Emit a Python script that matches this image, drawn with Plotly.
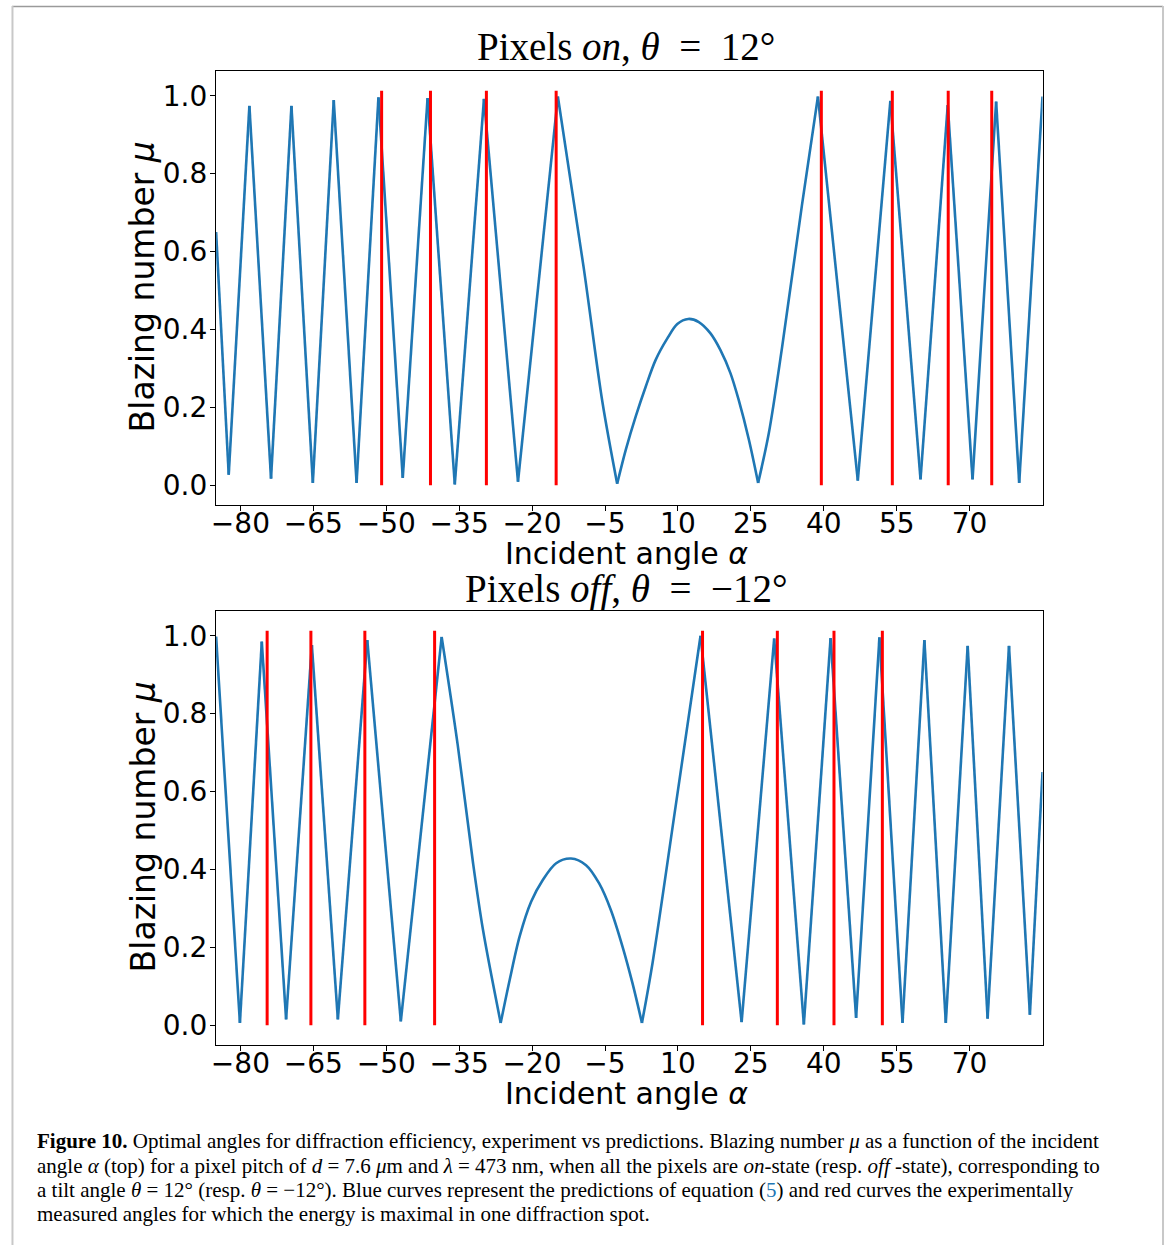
import plotly.graph_objects as go

# ---- blazing number vs incident angle, theta = +12 deg (pixels on) ----
TOP_ALPHA = [-85.0, -82.4, -78.15, -73.7, -69.5, -65.1, -60.8, -56.1, -51.6,
             -46.6, -41.5, -35.9, -29.9, -22.9, -14.7, -9.4, -5.55, -2.5,
             -0.73, 1.32, 3.37, 5.42, 7.82, 9.87, 12.13, 14.3, 16.7, 18.75,
             20.8, 22.5, 24.6, 26.5, 28.7, 31.4, 35.5, 38.8, 47.0, 53.7,
             59.9, 65.5, 70.6, 75.45, 80.2, 85.0]
TOP_MU = [0.650, 0.027, 0.974, 0.017, 0.974, 0.006, 0.989, 0.006, 0.996,
          0.019, 0.994, 0.002, 0.992, 0.009, 0.998, 0.560, 0.215, 0.004,
          0.091, 0.177, 0.253, 0.322, 0.377, 0.414, 0.427, 0.419, 0.390, 0.347,
          0.288, 0.219, 0.117, 0.006, 0.134, 0.352, 0.718, 0.998, 0.012, 0.987,
          0.015, 0.976, 0.015, 0.985, 0.006, 0.998]
TOP_MEASURED = [-50.95, -40.9, -29.4, -15.05, 39.5, 54.1, 65.6, 74.55]

# ---- blazing number vs incident angle, theta = -12 deg (pixels off) ----
BOT_ALPHA = [-85.0, -80.1, -75.6, -70.6, -65.3, -59.95, -53.9, -47.0, -38.6,
             -35.3, -32.14, -30.1, -26.46, -24.6, -22.56, -20.2, -17.8, -15.05,
             -11.98, -8.9, -6.2, -3.8, -1.4, 0.65, 2.6, 4.78, 9.5, 14.65,
             23.1, 29.8, 35.9, 41.4, 46.65, 51.45, 56.2, 60.7, 65.1, 69.6,
             73.7, 78.1, 82.4, 85.0]
BOT_MU = [0.998, 0.006, 0.985, 0.015, 0.976, 0.015, 0.989, 0.010, 0.997,
          0.720, 0.416, 0.245, 0.006, 0.117, 0.228, 0.317, 0.373, 0.416,
          0.428, 0.411, 0.364, 0.296, 0.202, 0.108, 0.006, 0.160, 0.560, 1.0,
          0.008, 0.993, 0.002, 0.994, 0.019, 0.996, 0.006, 0.989, 0.006, 0.974,
          0.017, 0.974, 0.027, 0.650]
BOT_MEASURED = [-74.5, -65.5, -54.4, -40.05, 15.06, 30.45, 42.1, 52.05]

MEASURED_SPAN = [0.0, 1.013]   # vertical extent of each measured-angle marker

X_TICKS = [-80, -65, -50, -35, -20, -5, 10, 25, 40, 55, 70]
Y_TICKS = [0.0, 0.2, 0.4, 0.6, 0.8, 1.0]

PANEL_TITLES = ["Pixels <i>on</i>, <i>θ</i>\u2002=\u200212°",
                "Pixels <i>off</i>, <i>θ</i>\u2002=\u2002−12°"]
X_LABEL = "Incident angle <i>α</i>"
Y_LABEL = "Blazing number <i>μ</i>"

CAPTION = [
    "<b>Figure 10.</b> Optimal angles for diffraction efficiency, experiment vs predictions. "
    "Blazing number <i>μ</i> as a function of the incident",
    "angle <i>α</i> (top) for a pixel pitch of <i>d</i> = 7.6 <i>μ</i>m and <i>λ</i> = 473 nm, "
    "when all the pixels are <i>on</i>-state (resp. <i>off</i> -state), corresponding to",
    "a tilt angle <i>θ</i> = 12° (resp. <i>θ</i> = −12°). Blue curves represent the predictions "
    "of equation (<span style='color:#1f77b4'>5</span>) and red curves the experimentally",
    "measured angles for which the energy is maximal in one diffraction spot.",
]

W, H = 1167, 1245
BLUE = "#1f77b4"
RED = "#ff0000"
SANS = "DejaVu Sans"
SERIF = "Liberation Serif"


def fx(p):
    return p / W


def fy(p):
    return 1 - p / H


def vlines(xs, span):
    xx, yy = [], []
    for x in xs:
        xx += [x, x, None]
        yy += [span[0], span[1], None]
    return xx, yy


def pieces(alpha, mu):
    """Split the curve at its sharp extrema so that each piece can be smoothed
    without rounding off the cusps."""
    cut = [0] + [i for i in range(1, len(mu) - 1)
                 if mu[i] < 0.05 or mu[i] > 0.9] + [len(mu) - 1]
    return [(alpha[a:b + 1], mu[a:b + 1]) for a, b in zip(cut[:-1], cut[1:])]


fig = go.Figure()

panels = [
    (TOP_ALPHA, TOP_MU, TOP_MEASURED, "x", "y"),
    (BOT_ALPHA, BOT_MU, BOT_MEASURED, "x2", "y2"),
]
for alpha, mu, measured, xa, ya in panels:
    for px_, py_ in pieces(alpha, mu):
        fig.add_trace(go.Scatter(x=px_, y=py_, mode="lines",
                                 line=dict(color=BLUE, width=2.6,
                                           shape="spline", smoothing=0.9),
                                 xaxis=xa, yaxis=ya, showlegend=False,
                                 hoverinfo="skip"))
    rx, ry = vlines(measured, MEASURED_SPAN)
    fig.add_trace(go.Scatter(x=rx, y=ry, mode="lines",
                             line=dict(color=RED, width=3),
                             xaxis=xa, yaxis=ya, showlegend=False,
                             hoverinfo="skip"))

x_dom = [fx(212), fx(1042)]
y_doms = [[fy(505), fy(71)], [fy(1045), fy(611)]]

axis_common = dict(showline=True, mirror=True, linecolor="black", linewidth=1.3,
                   ticks="outside", ticklen=5, tickwidth=1.3, tickcolor="black",
                   showgrid=False, zeroline=False,
                   tickfont=dict(family=SANS, size=28, color="black"))

layout = dict(
    width=W, height=H,
    margin=dict(l=0, r=0, t=0, b=0),
    paper_bgcolor="white", plot_bgcolor="white",
    showlegend=False,
)
for i, (xk, yk, ya_anchor, xa_anchor) in enumerate(
        [("xaxis", "yaxis", "x", "y"), ("xaxis2", "yaxis2", "x2", "y2")]):
    layout[xk] = dict(axis_common, domain=x_dom, range=[-85, 85],
                      tickmode="array", tickvals=X_TICKS, anchor=xa_anchor,
                      ticklabelstandoff=-12)
    layout[yk] = dict(axis_common, domain=y_doms[i], range=[-0.0507, 1.0636],
                      tickmode="array", tickvals=Y_TICKS, tickformat=".1f",
                      anchor=ya_anchor, ticklabelstandoff=-3)
fig.update_layout(**layout)

annotations = []
for title, ty, xl_y, yl_y in [(PANEL_TITLES[0], 47, 553, 287),
                              (PANEL_TITLES[1], 589, 1093, 827)]:
    annotations.append(dict(text=title, x=fx(624), y=fy(ty), xref="paper",
                            yref="paper", xanchor="center", yanchor="middle",
                            showarrow=False,
                            font=dict(family=SERIF, size=39, color="black")))
    annotations.append(dict(text=X_LABEL, x=fx(624), y=fy(xl_y), xref="paper",
                            yref="paper", xanchor="center", yanchor="middle",
                            showarrow=False,
                            font=dict(family=SANS, size=30, color="black")))
    annotations.append(dict(text=Y_LABEL, x=fx(139), y=fy(yl_y), xref="paper",
                            yref="paper", xanchor="center", yanchor="middle",
                            textangle=-90, showarrow=False,
                            font=dict(family=SANS, size=33, color="black")))

for line, ly in zip(CAPTION, [1141, 1165.5, 1190, 1214]):
    annotations.append(dict(text=line, x=fx(30), y=fy(ly), xref="paper",
                            yref="paper", xanchor="left", yanchor="middle",
                            showarrow=False, align="left",
                            font=dict(family=SERIF, size=21, color="black")))
fig.update_layout(annotations=annotations)

# thin frame around the figure
fig.add_shape(type="line", xref="paper", yref="paper",
              x0=fx(7), x1=fx(1163), y0=fy(6.5), y1=fy(6.5),
              line=dict(color="#9a9a9a", width=1.5))
fig.add_shape(type="line", xref="paper", yref="paper",
              x0=fx(7.5), x1=fx(7.5), y0=fy(6), y1=0,
              line=dict(color="#c8c8c8", width=2))
fig.add_shape(type="line", xref="paper", yref="paper",
              x0=fx(1163), x1=fx(1163), y0=fy(6), y1=0,
              line=dict(color="#c8c8c8", width=2))

fig.write_html("out.html")
